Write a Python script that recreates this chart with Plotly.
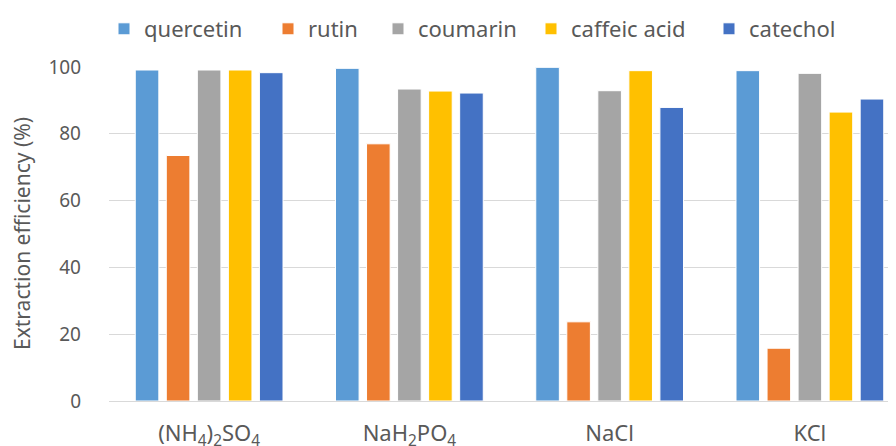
import plotly.graph_objects as go

categories = ["(NH<sub>4</sub>)<sub>2</sub>SO<sub>4</sub>", "NaH<sub>2</sub>PO<sub>4</sub>", "NaCl", "KCl"]
series_names = ["quercetin", "rutin", "coumarin", "caffeic acid", "catechol"]
quercetin = [99.1, 99.6, 99.9, 98.9]
rutin = [73.5, 77.0, 23.7, 15.8]
coumarin = [99.1, 93.4, 92.9, 98.1]
caffeic_acid = [99.1, 92.8, 98.9, 86.5]
catechol = [98.3, 92.2, 87.9, 90.4]
values = [quercetin, rutin, coumarin, caffeic_acid, catechol]
colors = ["#5B9BD5", "#ED7D31", "#A5A5A5", "#FFC000", "#4472C4"]
legend_x = [110, 274, 384, 537, 715]  # left edge of legend squares (px)

fig = go.Figure()
legend_ids = ["legend", "legend2", "legend3", "legend4", "legend5"]
for name, vals, c, lid in zip(series_names, values, colors, legend_ids):
    fig.add_trace(go.Bar(x=categories, y=vals, name=name, legend=lid, showlegend=True,
                         marker=dict(color=c, line=dict(color="white", width=1))))

font_family = "Noto Sans"
layout_legends = {}
for lid, lx in zip(legend_ids, legend_x):
    layout_legends[lid] = dict(orientation="h", x=(lx - 14) / 896, xanchor="left", xref="container",
                               y=1.0, yanchor="top", yref="container",
                               font=dict(size=22, color="#595959"), itemwidth=30,
                               bgcolor="rgba(0,0,0,0)", visible=True)

plot_left = 101
fig.update_layout(
    width=896, height=446,
    showlegend=True,
    margin=dict(l=plot_left, r=0, t=59, b=53, autoexpand=False),
    paper_bgcolor="white", plot_bgcolor="white",
    barmode="group", bargap=0.225, bargroupgap=0.24,
    font=dict(family=font_family, size=18, color="#595959"),
    xaxis=dict(type="category", range=[-0.5, 3.47], showgrid=False, showline=True,
               linecolor="#D9D9D9", linewidth=1, ticks="", tickfont=dict(size=22),
               ticklabelstandoff=13, automargin=False),
    yaxis=dict(range=[0, 100], dtick=20, showgrid=True, gridcolor="#D9D9D9", gridwidth=1,
               zeroline=False, showline=False, ticks="", tickfont=dict(size=19),
               ticklabelstandoff=27, automargin=False),
    annotations=[dict(text="Extraction efficiency (%)", textangle=-90, showarrow=False,
                      xref="paper", yref="paper", x=(14 - plot_left) / (896 - plot_left), y=0.5,
                      xanchor="center", yanchor="middle", font=dict(size=21, color="#595959"))],
    **layout_legends,
)
fig.write_html("out.html")
